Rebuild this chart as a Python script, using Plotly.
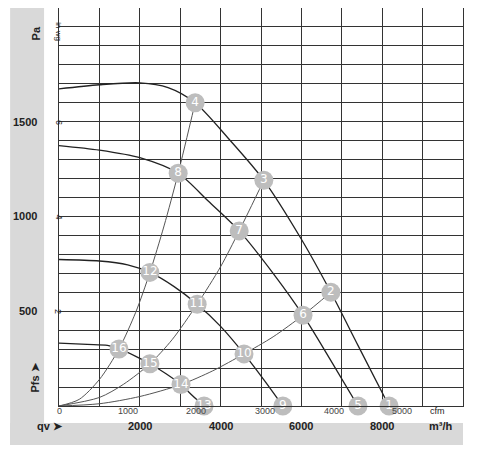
import plotly.graph_objects as go

# fan curves (m3/h, Pa)
c1_x = [0, 1000, 2000, 2700, 3370, 4200, 5070, 6000, 6730, 7400, 8170]
c1_y = [1673, 1695, 1705, 1680, 1600, 1410, 1191, 880, 600, 320, 0]
c2_x = [0, 1000, 2000, 2950, 3700, 4460, 5300, 6040, 6700, 7400]
c2_y = [1374, 1350, 1310, 1228, 1080, 924, 700, 479, 250, 0]
c3_x = [0, 1000, 1700, 2250, 2850, 3420, 4000, 4580, 5100, 5540]
c3_y = [773, 765, 745, 705, 630, 537, 420, 275, 130, 0]
c4_x = [0, 700, 1200, 1485, 1900, 2250, 2650, 3020, 3300, 3590]
c4_y = [332, 325, 320, 301, 262, 223, 170, 113, 55, 0]
# system curves
s1_x = [0, 500, 1000, 1485, 1900, 2250, 2600, 2950, 3370]
s1_y = [0, 35, 140, 301, 495, 705, 950, 1228, 1600]
s2_x = [0, 1000, 1600, 2250, 2800, 3420, 4000, 4460, 5070]
s2_y = [0, 45, 115, 223, 350, 537, 735, 924, 1191]
s3_x = [0, 1000, 2000, 3020, 3800, 4580, 5300, 6040, 6730]
s3_y = [0, 12, 50, 113, 185, 275, 365, 479, 600]

pt_labels = ["1", "2", "3", "4", "5", "6", "7", "8", "9", "10", "11", "12", "13", "14", "15", "16"]
pt_x = [8170, 6730, 5070, 3370, 7400, 6040, 4460, 2950, 5540, 4580, 3420, 2250, 3590, 3020, 2250, 1485]
pt_y = [0, 600, 1191, 1600, 0, 479, 924, 1228, 0, 275, 537, 705, 0, 113, 223, 301]

pa_ticks = [500, 1000, 1500]
inwg_ticks = [2, 4, 6]
qv_ticks = [2000, 4000, 6000, 8000]
cfm_ticks = [0, 1000, 2000, 3000, 4000, 5000]

fig = go.Figure()
for xs, ys in [(c1_x, c1_y), (c2_x, c2_y), (c3_x, c3_y), (c4_x, c4_y)]:
    fig.add_scatter(x=xs, y=ys, mode="lines", line=dict(color="#222", width=1.3, shape="spline", smoothing=0.8))
for xs, ys in [(s1_x, s1_y), (s2_x, s2_y), (s3_x, s3_y)]:
    fig.add_scatter(x=xs, y=ys, mode="lines", line=dict(color="#555", width=1, shape="spline", smoothing=0.8))
fig.add_scatter(x=pt_x, y=pt_y, mode="markers+text", text=pt_labels, cliponaxis=False,
                marker=dict(size=19, color="#bdbdbd"),
                textfont=dict(color="white", size=12, family="Arial Black, DejaVu Sans"))

fig.add_shape(type="rect", xref="paper", yref="paper", x0=-0.121, x1=-0.037, y0=-0.098, y1=1.0,
              fillcolor="#d9d9d9", line_width=0, layer="below")
fig.add_shape(type="rect", xref="paper", yref="paper", x0=-0.121, x1=1.0, y0=-0.098, y1=-0.043,
              fillcolor="#d9d9d9", line_width=0, layer="below")

ann = []
for v in pa_ticks:
    ann.append(dict(x=-0.05, y=v, xref="paper", yref="y", text="<b>%d</b>" % v, showarrow=False,
                    xanchor="right", font=dict(size=11)))
for v in inwg_ticks:
    ann.append(dict(x=-0.018, y=v * 249, xref="paper", yref="y", text=str(v), showarrow=False,
                    textangle=90, font=dict(size=9)))
for v in qv_ticks:
    ann.append(dict(x=v, y=-0.07, xref="x", yref="paper", text="<b>%d</b>" % v, showarrow=False,
                    font=dict(size=11)))
for v in cfm_ticks:
    ann.append(dict(x=v * 1.699, y=0.005, xref="x", yref="paper", text=str(v), showarrow=False,
                    yanchor="top", font=dict(size=9, color="#444")))
ann += [
    dict(x=0.96, y=0.005, xref="paper", yref="paper", text="cfm", showarrow=False, yanchor="top", font=dict(size=9)),
    dict(x=0.98, y=-0.07, xref="paper", yref="paper", text="<b>m³/h</b>", showarrow=False, font=dict(size=11)),
    dict(x=-0.06, y=-0.07, xref="paper", yref="paper", text="<b>qv ➤</b>", showarrow=False, font=dict(size=11)),
    dict(x=-0.078, y=0.96, xref="paper", yref="paper", text="<b>Pa</b>", showarrow=False, textangle=-90, font=dict(size=11)),
    dict(x=-0.018, y=0.97, xref="paper", yref="paper", text="in wg", showarrow=False, textangle=90, font=dict(size=8)),
    dict(x=-0.078, y=0.03, xref="paper", yref="paper", text="<b>Pfs ➤</b>", showarrow=False, textangle=-90, font=dict(size=11)),
]

fig.update_layout(
    width=485, height=462, margin=dict(l=51, r=30, t=0, b=64),
    paper_bgcolor="white", plot_bgcolor="white", showlegend=False,
    font=dict(family="Arial, Liberation Sans", color="#222"),
    annotations=ann,
    xaxis=dict(range=[0, 10000], dtick=1000, showticklabels=False, showgrid=True, gridcolor="#333",
               gridwidth=1, zeroline=False, showline=True, linecolor="#333", mirror=True),
    yaxis=dict(range=[0, 2100], dtick=100, showticklabels=False, showgrid=True, gridcolor="#333",
               gridwidth=1, zeroline=False, showline=True, linecolor="#333", mirror=True),
)
fig.write_html("out.html")
